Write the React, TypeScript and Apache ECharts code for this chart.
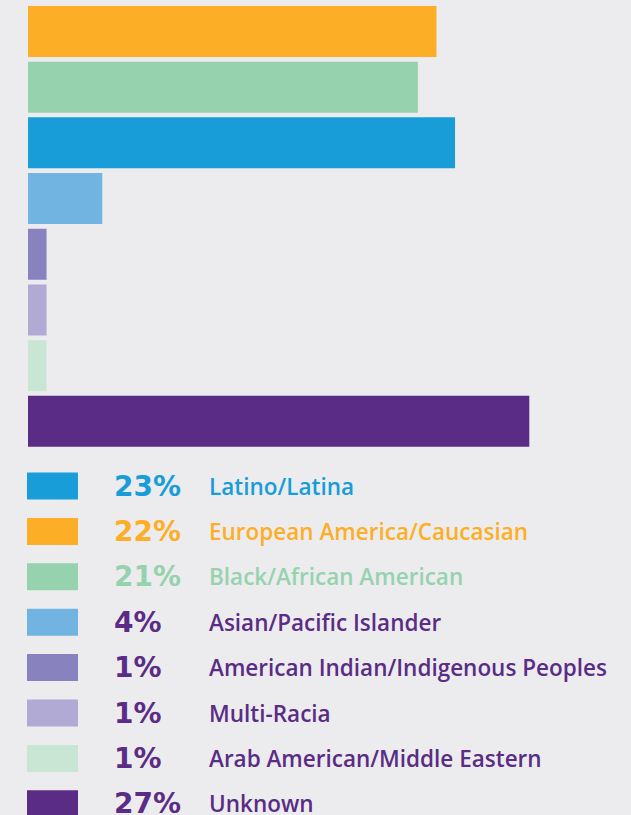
import React, { useEffect, useRef } from "react";
import * as echarts from "echarts";

// Bar order (top to bottom)
const categories = [
  "European America/Caucasian",
  "Black/African American",
  "Latino/Latina",
  "Asian/Pacific Islander",
  "American Indian/Indigenous Peoples",
  "Multi-Racia",
  "Arab American/Middle Eastern",
  "Unknown",
];
const values = [22, 21, 23, 4, 1, 1, 1, 27];
const barColors = [
  "#FCAF26",
  "#97D2AE",
  "#189DD9",
  "#71B4E2",
  "#8883BE",
  "#B0AAD4",
  "#C9E6D5",
  "#5A2C85",
];

// Legend order (top to bottom)
const legendOrder = [
  "Latino/Latina",
  "European America/Caucasian",
  "Black/African American",
  "Asian/Pacific Islander",
  "American Indian/Indigenous Peoples",
  "Multi-Racia",
  "Arab American/Middle Eastern",
  "Unknown",
];
const legendTextColors = [
  "#189DD9",
  "#FCAF26",
  "#97D2AE",
  "#5A2C85",
  "#5A2C85",
  "#5A2C85",
  "#5A2C85",
  "#5A2C85",
];

export default function App() {
  const ref = useRef<HTMLDivElement>(null);

  useEffect(() => {
    document.body.style.margin = "0";
    if (!ref.current) return;
    const chart = echarts.init(ref.current, undefined, { renderer: "svg" });

    const valueOf = (name: string) => values[categories.indexOf(name)];

    chart.setOption({
      animation: false,
      backgroundColor: "#ECECEE",
      grid: { left: 28, top: 3.6, width: 557, height: 445.6, containLabel: false },
      xAxis: { type: "value", min: 0, max: 30, show: false },
      yAxis: { type: "category", data: categories, inverse: true, show: false },
      legend: {
        orient: "vertical",
        left: 27,
        top: 472,
        height: 420,
        padding: 0,
        itemWidth: 51,
        itemHeight: 27,
        itemGap: 17.4,
        icon: "rect",
        selectedMode: false,
        data: legendOrder.map((name, i) => ({
          name,
          textStyle: { color: legendTextColors[i] },
        })),
        formatter: (name: string) => `{p|${valueOf(name)}%}{l|${name}}`,
        textStyle: {
          lineHeight: 27,
          rich: {
            p: {
              fontFamily: "DejaVu Sans",
              fontWeight: "bold",
              fontSize: 28,
              width: 95,
              padding: [0, 0, 0, 31],
              lineHeight: 27,
            },
            l: {
              fontFamily: "Open Sans",
              fontWeight: 600,
              fontSize: 22.5,
              lineHeight: 27,
            },
          },
        },
      },
      series: categories.map((name, i) => ({
        type: "bar",
        name,
        stack: "all",
        barWidth: 51,
        itemStyle: { color: barColors[i] },
        data: categories.map((_, j) => (j === i ? values[i] : "-")),
      })),
    });

    return () => chart.dispose();
  }, []);

  return <div ref={ref} style={{ width: 631, height: 815 }} />;
}
